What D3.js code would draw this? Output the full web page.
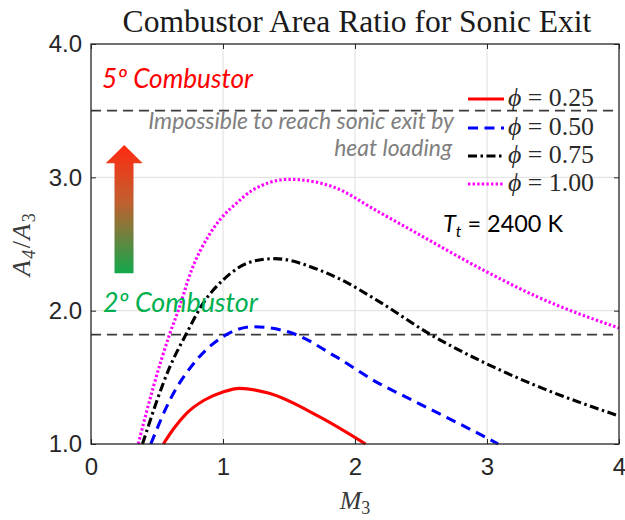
<!DOCTYPE html>
<html>
<head>
<meta charset="utf-8">
<script src="https://cdn.jsdelivr.net/npm/d3@7"></script>
<style>
  body { margin: 0; background: #fff; }
  svg { display: block; }
</style>
</head>
<body>
<svg id="chart" width="625" height="520"></svg>
<script>
// ---- data -------------------------------------------------------------
const machTicks  = [0, 1, 2, 3, 4];
const ratioTicks = [1, 2, 3, 4];
const phiLabels  = ["0.25", "0.50", "0.75", "1.00"];

// Area ratio A4/A3 needed for sonic exit vs. inlet Mach number M3
const machPhi025  = [0.548, 0.63, 0.724, 0.86, 1.0, 1.126, 1.35, 1.729, 2.08];
const ratioPhi025 = [1.0,   1.12, 1.23,  1.33, 1.39, 1.417, 1.38, 1.205, 1.0];

const machPhi050  = [0.453, 0.598, 0.80, 1.0,   1.226, 1.528, 1.855, 2.18,  2.38,  2.99,  3.085];
const ratioPhi050 = [1.0,   1.33,  1.63, 1.805, 1.88,  1.83,  1.655, 1.455, 1.355, 1.05,  1.0];

const machPhi075  = [0.39, 0.598, 0.724, 0.849, 1.0,  1.226, 1.39, 1.729, 1.879, 2.18, 2.557, 2.99,  3.39, 4.0];
const ratioPhi075 = [1.0,  1.58,  1.83,  2.055, 2.23, 2.37,  2.39, 2.305, 2.24,  2.07, 1.83,  1.605, 1.43, 1.21];

const machPhi100  = [0.358, 0.473, 0.598, 0.661, 0.762, 0.887, 0.975, 1.101, 1.226, 1.503, 1.829, 2.18, 2.38, 3.0,  3.39, 4.0];
const ratioPhi100 = [1.0,   1.43,  1.83,  2.0,   2.305, 2.555, 2.68,  2.805, 2.905, 2.985, 2.93,  2.74, 2.63, 2.29, 2.10, 1.87];

// Horizontal limits: 5th-combustor (heat-loading limit) and 2nd-combustor lines
const limitFifth  = 3.5;
const limitSecond = 1.82;

// ---- setup ------------------------------------------------------------
const svg = d3.select("#chart");
const x = d3.scaleLinear().domain([0, 4]).range([91, 619]);
const y = d3.scaleLinear().domain([1, 4]).range([444, 44]);

const axisColor = "#262626";
const sansFont  = "'Liberation Sans', Arial, sans-serif";
const serifFont = "'Liberation Serif', 'DejaVu Serif', serif";
const noteFont  = "Lato, 'Open Sans', sans-serif";

// Scale a text's font size so its rendered width matches a target width
function fitWidth(sel, width) {
  const w = sel.node().getComputedTextLength();
  const fs = parseFloat(sel.attr("font-size"));
  const k = width / w;
  sel.attr("font-size", (fs * k).toFixed(2));
  sel.selectAll("tspan[font-size]").each(function () {
    const t = d3.select(this);
    t.attr("font-size", (parseFloat(t.attr("font-size")) * k).toFixed(2));
  });
  return sel;
}

svg.append("rect").attr("width", 625).attr("height", 520).attr("fill", "#fff");

// ---- grid -------------------------------------------------------------
const grid = svg.append("g").attr("stroke", "#dedede").attr("stroke-width", 1);
grid.selectAll("line.gx").data(machTicks.slice(1, -1)).join("line")
  .attr("x1", d => x(d)).attr("x2", d => x(d))
  .attr("y1", y(1)).attr("y2", y(4));
grid.selectAll("line.gy").data(ratioTicks.slice(1, -1)).join("line")
  .attr("x1", x(0)).attr("x2", x(4))
  .attr("y1", d => y(d)).attr("y2", d => y(d));

// ---- reference limits -------------------------------------------------
svg.append("g").selectAll("line").data([limitFifth, limitSecond]).join("line")
  .attr("x1", x(0)).attr("x2", x(4))
  .attr("y1", d => y(d)).attr("y2", d => y(d))
  .attr("stroke", "#3a3a3a").attr("stroke-width", 1.6)
  .attr("stroke-dasharray", "10,6");

// ---- curves -----------------------------------------------------------
const series = [
  { mach: machPhi025, ratio: ratioPhi025, color: "#ff0000", dash: null },
  { mach: machPhi050, ratio: ratioPhi050, color: "#0000ff", dash: "10,6.5" },
  { mach: machPhi075, ratio: ratioPhi075, color: "#000000", dash: "9,3.5,2.5,3.5" },
  { mach: machPhi100, ratio: ratioPhi100, color: "#ff00ff", dash: "2.4,2.2" }
];
const line = d3.line().x(d => x(d[0])).y(d => y(d[1])).curve(d3.curveMonotoneX);

svg.append("g").selectAll("path").data(series).join("path")
  .attr("d", s => line(s.mach.map((m, i) => [m, s.ratio[i]])))
  .attr("fill", "none")
  .attr("stroke", s => s.color)
  .attr("stroke-width", 3.1)
  .attr("stroke-dasharray", s => s.dash);

// ---- axes (MATLAB-style box, inward ticks) ----------------------------
function styleAxis(g) {
  g.select(".domain").remove();
  g.selectAll(".tick line").attr("stroke", axisColor).attr("stroke-width", 1);
  g.selectAll(".tick text").attr("fill", axisColor)
    .attr("font-family", sansFont).attr("font-size", 24);
}
svg.append("g").attr("transform", `translate(0,${y(1)})`)
  .call(d3.axisBottom(x).tickValues(machTicks).tickSize(-5).tickPadding(14).tickFormat(d3.format("d")))
  .call(styleAxis);
svg.append("g").attr("transform", `translate(0,${y(4)})`)
  .call(d3.axisTop(x).tickValues(machTicks).tickSize(-5).tickFormat(""))
  .call(styleAxis);
svg.append("g").attr("transform", `translate(${x(0)},0)`)
  .call(d3.axisLeft(y).tickValues(ratioTicks).tickSize(-5).tickPadding(9).tickFormat(d3.format(".1f")))
  .call(styleAxis);
svg.append("g").attr("transform", `translate(${x(4)},0)`)
  .call(d3.axisRight(y).tickValues(ratioTicks).tickSize(-5).tickFormat(""))
  .call(styleAxis);

svg.append("rect")
  .attr("x", x(0)).attr("y", y(4))
  .attr("width", x(4) - x(0)).attr("height", y(1) - y(4))
  .attr("fill", "none").attr("stroke", axisColor).attr("stroke-width", 1.3);

// ---- title and axis labels -------------------------------------------
const title = svg.append("text")
  .attr("x", 357).attr("y", 32).attr("text-anchor", "middle")
  .attr("font-family", serifFont).attr("font-size", 26).attr("fill", "#1a1a1a")
  .text("Combustor Area Ratio for Sonic Exit");
fitWidth(title, 469);

const xLabel = svg.append("text")
  .attr("x", (x(0) + x(4)) / 2).attr("y", 509).attr("text-anchor", "middle")
  .attr("font-family", serifFont).attr("font-size", 26).attr("fill", "#3a3a3a");
xLabel.append("tspan").attr("font-style", "italic").text("M");
xLabel.append("tspan").attr("font-size", 18).attr("dy", 5).text("3");

const yLabel = svg.append("text")
  .attr("transform", `translate(30,${(y(1) + y(4)) / 2}) rotate(-90)`)
  .attr("text-anchor", "middle")
  .attr("font-family", serifFont).attr("font-size", 26).attr("fill", "#3a3a3a")
  .attr("letter-spacing", 1.5);
yLabel.append("tspan").attr("font-style", "italic").text("A");
yLabel.append("tspan").attr("font-size", 18).attr("font-style", "italic").attr("dy", 5).text("4");
yLabel.append("tspan").attr("dy", -5).text("/");
yLabel.append("tspan").attr("font-style", "italic").text("A");
yLabel.append("tspan").attr("font-size", 18).attr("dy", 5).text("3");

// ---- legend -----------------------------------------------------------
const legendRows = [99, 128, 156, 184];
const legend = svg.append("g");
series.forEach((s, i) => {
  legend.append("line")
    .attr("x1", 468).attr("x2", 504)
    .attr("y1", legendRows[i]).attr("y2", legendRows[i])
    .attr("stroke", s.color).attr("stroke-width", 3.1)
    .attr("stroke-dasharray", s.dash);
  const t = legend.append("text")
    .attr("x", 508).attr("y", legendRows[i] + 7)
    .attr("font-family", serifFont).attr("font-size", 21).attr("fill", "#2a2a2a");
  t.append("tspan").attr("font-style", "italic").text("\u03D5");
  t.append("tspan").text(" = " + phiLabels[i]);
  fitWidth(t, 86);
});

// ---- annotations ------------------------------------------------------
const grad = svg.append("defs").append("linearGradient")
  .attr("id", "heatGrad").attr("x1", 0).attr("y1", 0).attr("x2", 0).attr("y2", 1);
grad.append("stop").attr("offset", "0%").attr("stop-color", "#ff2a10");
grad.append("stop").attr("offset", "45%").attr("stop-color", "#c06030");
grad.append("stop").attr("offset", "100%").attr("stop-color", "#12a84c");

const arrowPath = d3.path();
arrowPath.moveTo(124.2, 145);
arrowPath.lineTo(142.7, 163.3);
arrowPath.lineTo(133.5, 163.3);
arrowPath.lineTo(133.5, 273.3);
arrowPath.lineTo(114.5, 273.3);
arrowPath.lineTo(114.5, 163.3);
arrowPath.lineTo(105.7, 163.3);
arrowPath.closePath();
svg.append("path").attr("d", arrowPath.toString()).attr("fill", "url(#heatGrad)");

const fifth = svg.append("text")
  .attr("x", 102).attr("y", 88)
  .attr("font-family", noteFont).attr("font-style", "italic").attr("font-size", 22)
  .attr("fill", "#ff0000").text("5\u00BA Combustor");
fitWidth(fifth, 151);

const second = svg.append("text")
  .attr("x", 103).attr("y", 312)
  .attr("font-family", noteFont).attr("font-style", "italic").attr("font-size", 22)
  .attr("fill", "#00b050").text("2\u00BA Combustor");
fitWidth(second, 155);

const note1 = svg.append("text")
  .attr("x", 454).attr("y", 129).attr("text-anchor", "end")
  .attr("font-family", noteFont).attr("font-style", "italic").attr("font-size", 20)
  .attr("fill", "#808080").text("Impossible to reach sonic exit by");
fitWidth(note1, 306);
svg.append("text")
  .attr("x", 452).attr("y", 156).attr("text-anchor", "end")
  .attr("font-family", noteFont).attr("font-style", "italic").attr("font-size", note1.attr("font-size"))
  .attr("fill", "#808080").text("heat loading");

const temp = svg.append("text")
  .attr("x", 443).attr("y", 232)
  .attr("font-family", noteFont).attr("font-size", 22).attr("fill", "#000");
temp.append("tspan").attr("font-style", "italic").text("T");
temp.append("tspan").attr("font-style", "italic").attr("font-size", 15).attr("dy", 5).text("t");
temp.append("tspan").attr("dy", -5).text(" = 2400 K");
fitWidth(temp, 120);
</script>
</body>
</html>
